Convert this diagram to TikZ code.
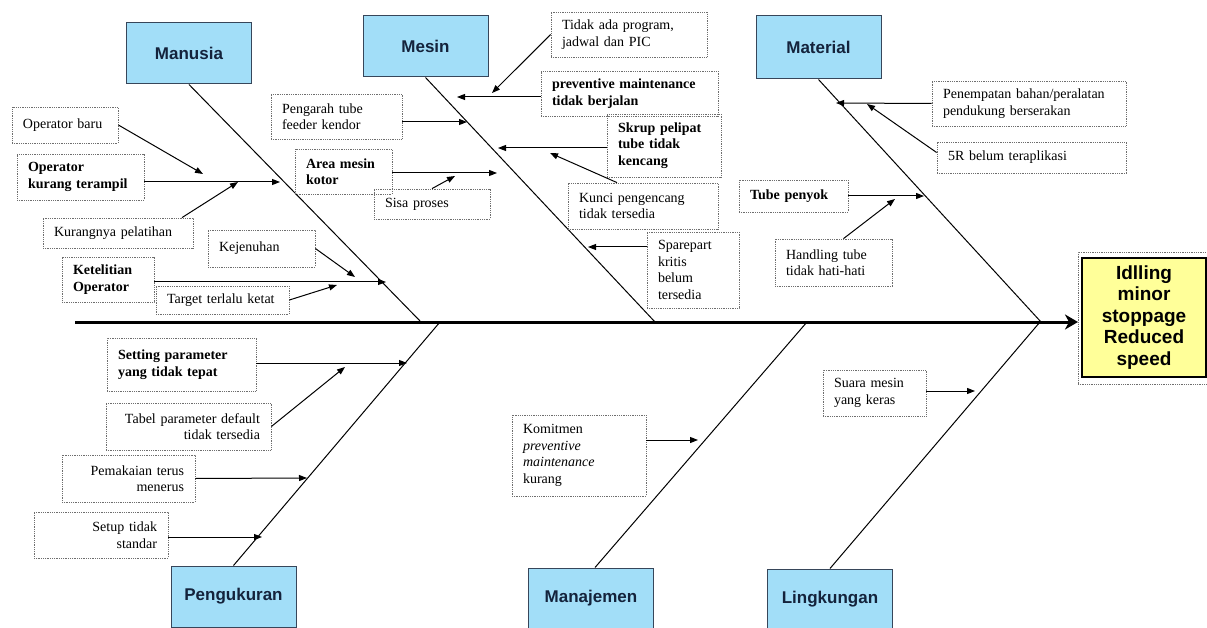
\documentclass[tikz,border=0pt]{standalone}
\usepackage{fontspec}
\setmainfont{Liberation Serif}
\setsansfont{Liberation Sans}
\usetikzlibrary{arrows.meta,calc}
\definecolor{catblue}{RGB}{162,222,248}
\definecolor{catborder}{RGB}{55,70,90}
\definecolor{cattext}{RGB}{20,35,60}
\definecolor{effyellow}{RGB}{255,255,153}
\definecolor{dotgray}{RGB}{110,110,110}
\begin{document}
\begin{tikzpicture}[x=1pt,y=-1pt,
  cat/.style={draw=catborder, line width=1pt, fill=catblue, minimum width=125pt, minimum height=61pt, inner sep=0pt, font=\sffamily\bfseries\fontsize{17}{20}\selectfont, text=cattext},
  cause/.style={draw=dotgray, densely dotted, line width=0.8pt, inner xsep=11pt, inner ysep=0pt, font=\fontsize{14}{16.5}\selectfont, align=left},
  causeb/.style={cause, font=\fontsize{14}{16.5}\selectfont\bfseries},
  bone/.style={line width=1pt},
  arr/.style={line width=1pt, -{Triangle[length=8pt,width=6pt]}},
]
\useasboundingbox[fill=white] (0,0) rectangle (1207,628);

% category boxes
\node[cat] (manusia) at (189,53.5) {Manusia};
\node[cat] (mesin) at (425.5,46.5) {Mesin};
\node[cat, minimum height=63pt] (material) at (818.5,47.5) {Material};
\node[cat] (pengukuran) at (233.5,596.5) {Pengukuran};
\node[cat] (manajemen) at (591,598.5) {Manajemen};
\node[cat] (lingkungan) at (830,599.5) {Lingkungan};

% effect
\node[draw=dotgray, densely dotted, line width=0.8pt, minimum width=132pt, minimum height=132pt] (effo) at (1144,318) {};
\node[draw=black, line width=1.2pt, fill=effyellow, minimum width=124pt, minimum height=119pt, inner sep=0pt, align=center, font=\sffamily\bfseries\fontsize{19}{21.5}\selectfont] (eff) at (1144,317.5) {Idlling\\minor\\stoppage\\Reduced\\speed};

% junctions
\coordinate (spL) at (75,322);
\coordinate (spR) at (1078,322);
\coordinate (jMan) at (421,322);
\coordinate (jMes) at (655,322);
\coordinate (jMat) at (1041,322);
\coordinate (jPeng) at (440,322);
\coordinate (jMnj) at (807,322);
\coordinate (jLing) at (1040,322);

% bones
\draw[bone] (manusia.south) -- (jMan);
\draw[bone] (mesin.south) -- (jMes);
\draw[bone] (material.south) -- (jMat);
\draw[bone] (pengukuran.north) -- (jPeng);
\draw[bone] ($(manajemen.north)+(4,0)$) -- (jMnj);
\draw[bone] (lingkungan.north) -- (jLing);
\draw[line width=3pt, -{Stealth[length=13pt,width=15pt,inset=4pt]}] (spL) -- (spR);

% cause boxes: Manusia
\node[cause, text width=84pt, minimum height=36pt] (opbaru) at (65,125) {Operator baru};
\node[causeb, text width=105pt, minimum height=46pt] (okt) at (80.5,177) {Operator\\kurang terampil};
\node[cause, text width=128pt, minimum height=30pt] (kp) at (118,233) {Kurangnya pelatihan};
\node[cause, text width=85pt, minimum height=37pt] (kej) at (261.5,248.5) {Kejenuhan};
\node[causeb, text width=70pt, minimum height=45pt] (ket) at (108,279.5) {Ketelitian\\Operator};
\node[cause, text width=111pt, minimum height=28pt] (tgt) at (222.5,300) {Target terlalu ketat};

% Mesin
\node[cause, text width=109pt, minimum height=45pt] (pg) at (336.5,116.5) {Pengarah tube\\feeder kendor};
\node[causeb, text width=75pt, minimum height=45pt] (am) at (343.5,171.5) {Area mesin\\kotor};
\node[cause, text width=94pt, minimum height=30pt] (sisa) at (432,204) {Sisa proses};
\node[cause, text width=134pt, minimum height=45pt] (tap) at (629,34.5) {Tidak ada program,\\jadwal dan PIC};
\node[causeb, text width=155pt, minimum height=45pt] (pm) at (629.5,93.5) {preventive maintenance\\tidak berjalan};
\node[causeb, text width=92pt, minimum height=63pt] (sk) at (664,145.5) {Skrup pelipat\\tube tidak\\kencang};
\node[cause, text width=128pt, minimum height=46pt] (kunci) at (643,206) {Kunci pengencang\\tidak tersedia};
\node[cause, text width=70pt, minimum height=76pt] (spr) at (693,270) {Sparepart\\kritis\\belum\\tersedia};

% Material
\node[cause, text width=172pt, minimum height=45pt] (pen) at (1029,103.5) {Penempatan bahan/peralatan\\pendukung berserakan};
\node[cause, text width=167pt, minimum height=31pt] (r5) at (1031.5,157.5) {5R belum teraplikasi};
\node[causeb, text width=87pt, minimum height=32pt] (tp) at (793.5,196) {Tube penyok};
\node[cause, text width=95pt, minimum height=47pt] (hand) at (833.5,262.5) {Handling tube\\tidak hati-hati};

% Pengukuran
\node[causeb, text width=127pt, minimum height=53pt] (sp2) at (181.5,364.5) {Setting parameter\\yang tidak tepat};
\node[cause, align=right, text width=143pt, minimum height=47pt] (tab) at (188.5,426.5) {Tabel parameter default\\tidak tersedia};
\node[cause, align=right, text width=111pt, minimum height=47pt] (pem) at (128.5,478.5) {Pemakaian terus\\menerus};
\node[cause, align=right, text width=112pt, minimum height=46pt] (setup) at (101,535) {Setup tidak\\standar};

% Manajemen
\node[cause, text width=112pt, minimum height=81pt] (kom) at (579,455.5) {Komitmen\\\textit{preventive}\\\textit{maintenance}\\kurang};

% Lingkungan
\node[cause, text width=81pt, minimum height=46pt] (suara) at (874.5,393) {Suara mesin\\yang keras};

% arrow targets
\coordinate (t1) at (203,174);
\coordinate (t2) at (280,182);
\coordinate (t3) at (238,182);
\coordinate (t4) at (355,277);
\coordinate (t5) at (386,282);
\coordinate (t6) at (337,285);
\coordinate (t7) at (467,122);
\coordinate (t8) at (497,173);
\coordinate (t9) at (455,176);
\coordinate (t10) at (492,93);
\coordinate (t11) at (457,97);
\coordinate (t12) at (498,148);
\coordinate (t13) at (550,153);
\coordinate (t14) at (588,247);
\coordinate (t15) at (836,103);
\coordinate (t16) at (867,104);
\coordinate (t17) at (924,196);
\coordinate (t18) at (895,199);
\coordinate (t19) at (407,363);
\coordinate (t20) at (345,367);
\coordinate (t21) at (307,478);
\coordinate (t22) at (262,537);
\coordinate (t23) at (698,440);
\coordinate (t24) at (975,391);

% arrows
\draw[arr] (opbaru.east) -- (t1);
\draw[arr] (okt.east |- t2) -- (t2);
\draw[arr] ($(kp.north)+(64,0)$) -- (t3);
\draw[arr] (kej.east) -- (t4);
\draw[arr] (ket.east |- t5) -- (t5);
\draw[arr] (tgt.east) -- (t6);
\draw[arr] (pg.east |- t7) -- (t7);
\draw[arr] (am.east |- t8) -- (t8);
\draw[arr] (sisa.north) -- (t9);
\draw[arr] (tap.west) -- (t10);
\draw[arr] (pm.west |- t11) -- (t11);
\draw[arr] (sk.west |- t12) -- (t12);
\draw[arr] ($(kunci.north)+(-26,0)$) -- (t13);
\draw[arr] (spr.west |- t14) -- (t14);
\draw[arr] (pen.west) -- (t15);
\draw[arr] ($(r5.west)+(0,-5)$) -- (t16);
\draw[arr] (tp.east) -- (t17);
\draw[arr] ($(hand.north)+(10,0)$) -- (t18);
\draw[arr] (sp2.east |- t19) -- (t19);
\draw[arr] (tab.east) -- (t20);
\draw[arr] (pem.east) -- (t21);
\draw[arr] (setup.east |- t22) -- (t22);
\draw[arr] (kom.east |- t23) -- (t23);
\draw[arr] (suara.east |- t24) -- (t24);
\end{tikzpicture}
\end{document}
